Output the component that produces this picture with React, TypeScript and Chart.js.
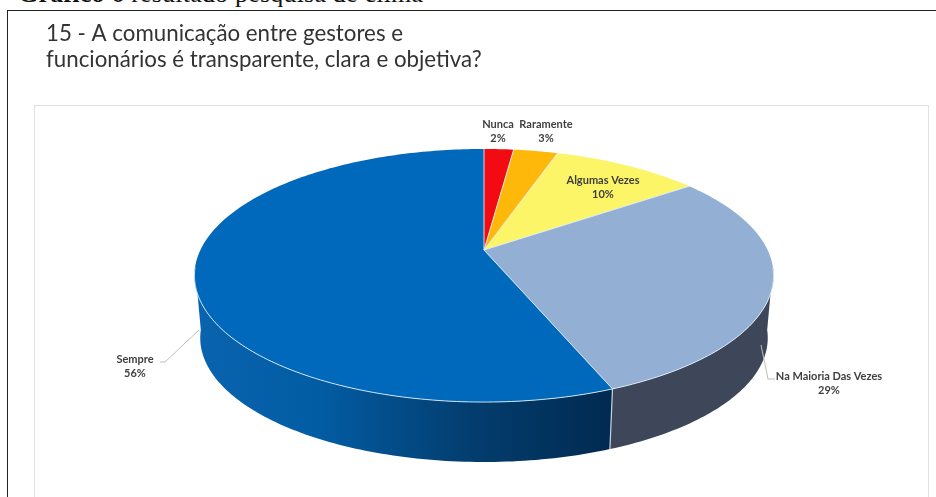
import React, { useEffect, useRef } from "react";
import { Chart, registerables } from "chart.js";

Chart.register(...registerables);

const categories = ["Nunca", "Raramente", "Algumas Vezes", "Na Maioria Das Vezes", "Sempre"];
const shares = [2, 3, 10, 29, 56];
const topColors = ["#f20b12", "#fdb80a", "#fbf567", "#93afd4", "#0069bb"];
const titleLines = ["15 - A comunicação entre gestores e", "funcionários é transparente, clara e objetiva?"];

// Pixel anchors for the two-line slice captions, in the same order as the categories.
const captionAnchors = [
  [498, 124],
  [546, 124],
  [603, 180],
  [829, 376],
  [135, 359],
];
// Leader lines for the two captions that sit outside the pie.
const leaders = [
  [[761, 345], [768, 379], [775, 379]],
  [[199, 330], [165, 362], [160, 362]],
];

// Perspective of the tilted disc, relative to the pie's outer radius.
const TILT = 0.2016;
const WIDTH_RATIO = 1.63;
const HEIGHT_RATIO = 0.6977;
const BASE_DROP_RATIO = 0.362;
const BASE_SCALE = 0.98;
const WALL_FROM = (98 * Math.PI) / 180;
const WALL_TO = (262 * Math.PI) / 180;
const RIM_COLOR = "rgba(222,236,248,0.9)";

type Pt = [number, number];

function project(arc: any, theta: number, base = false): Pt {
  const r = arc.outerRadius;
  const s = base ? BASE_SCALE : 1;
  const u = Math.sin(theta);
  const v = -Math.cos(theta);
  const d = 1 - TILT * v;
  return [
    arc.x + (r * WIDTH_RATIO * s * u) / d,
    arc.y + (base ? r * BASE_DROP_RATIO : 0) + (r * HEIGHT_RATIO * s * v) / d,
  ];
}

function trace(ctx: CanvasRenderingContext2D, arc: any, from: number, to: number, base = false, reverse = false) {
  const steps = Math.max(2, Math.ceil(((to - from) * 180) / Math.PI));
  for (let i = 0; i <= steps; i++) {
    const t = reverse ? to - ((to - from) * i) / steps : from + ((to - from) * i) / steps;
    const [x, y] = project(arc, t, base);
    ctx.lineTo(x, y);
  }
}

const disc3d = {
  id: "disc3d",
  beforeDatasetDraw(chart: any) {
    const ctx: CanvasRenderingContext2D = chart.ctx;
    const arcs = chart.getDatasetMeta(0).data;
    const sweep = arcs.map((a: any) => [a.startAngle + Math.PI / 2, a.endAngle + Math.PI / 2]);

    // Side wall, front half only.
    const shade = ctx.createLinearGradient(project(arcs[0], WALL_TO)[0], 0, project(arcs[3], sweep[3][1])[0], 0);
    shade.addColorStop(0, "#0a63ae");
    shade.addColorStop(0.3, "#025ca3");
    shade.addColorStop(0.65, "#033e70");
    shade.addColorStop(1, "#012a50");
    const wallFill = ["#000", "#000", "#000", "#3e4659", shade];
    arcs.forEach((arc: any, i: number) => {
      const a = Math.max(sweep[i][0], WALL_FROM);
      const b = Math.min(sweep[i][1], WALL_TO);
      if (b <= a) return;
      ctx.beginPath();
      trace(ctx, arc, a, b);
      trace(ctx, arc, a, b, true, true);
      ctx.closePath();
      ctx.fillStyle = wallFill[i];
      ctx.fill();
    });
    const seam = sweep[3][1];
    const [sx, sy] = project(arcs[3], seam);
    const [ex, ey] = project(arcs[3], seam, true);
    ctx.strokeStyle = "#c3d3e4";
    ctx.lineWidth = 1.2;
    ctx.beginPath();
    ctx.moveTo(sx, sy);
    ctx.lineTo(ex, ey);
    ctx.stroke();

    // Top face.
    arcs.forEach((arc: any, i: number) => {
      ctx.beginPath();
      ctx.moveTo(arc.x, arc.y);
      trace(ctx, arc, sweep[i][0], sweep[i][1]);
      ctx.closePath();
      ctx.fillStyle = arc.options.backgroundColor;
      ctx.fill();
    });
    ctx.strokeStyle = RIM_COLOR;
    ctx.lineWidth = 1;
    arcs.forEach((arc: any, i: number) => {
      ctx.beginPath();
      ctx.moveTo(arc.x, arc.y);
      const [x, y] = project(arc, sweep[i][0]);
      ctx.lineTo(x, y);
      ctx.stroke();
    });
    ctx.beginPath();
    trace(ctx, arcs[0], WALL_FROM, WALL_TO);
    ctx.stroke();
    return false;
  },
  afterDatasetsDraw(chart: any) {
    const ctx: CanvasRenderingContext2D = chart.ctx;
    ctx.strokeStyle = "#bdbdbd";
    ctx.lineWidth = 1;
    leaders.forEach((line) => {
      ctx.beginPath();
      line.forEach(([x, y]) => ctx.lineTo(x, y));
      ctx.stroke();
    });
    ctx.fillStyle = "#3f3f3f";
    ctx.font = 'bold 11px Lato, "Open Sans", sans-serif';
    ctx.textAlign = "center";
    ctx.textBaseline = "middle";
    categories.forEach((name, i) => {
      const [x, y] = captionAnchors[i];
      ctx.fillText(name, x, y);
      ctx.fillText(`${shares[i]}%`, x, y + 14);
    });
  },
};

export default function App() {
  const ref = useRef<HTMLCanvasElement>(null);
  useEffect(() => {
    const chart = new Chart(ref.current!, {
      type: "pie",
      data: {
        labels: categories,
        datasets: [{ data: shares, backgroundColor: topColors, borderWidth: 0 }],
      },
      options: {
        animation: false,
        responsive: false,
        layout: { padding: { left: 46, right: 14, top: 20, bottom: 73 } },
        plugins: {
          legend: { display: false },
          tooltip: { enabled: false },
          title: {
            display: true,
            text: titleLines,
            align: "start",
            color: "#333333",
            font: { family: "Lato, sans-serif", size: 22.3, weight: "normal", lineHeight: 1.2 },
            padding: { top: 0, bottom: 2.5 },
          },
        },
      },
      plugins: [disc3d],
    });
    return () => chart.destroy();
  }, []);

  return (
    <div style={{ position: "fixed", left: 0, top: 0, width: 936, height: 497, overflow: "hidden", background: "#fff" }}>
      <div
        style={{
          position: "absolute",
          left: 18,
          top: -21,
          font: "26px 'Liberation Serif', serif",
          letterSpacing: "0.2px",
          color: "#111",
          whiteSpace: "nowrap",
        }}
      >
        <b>Gráfico 6</b> resultado pesquisa de clima
      </div>
      <div style={{ position: "absolute", left: 7, top: 10, width: 940, height: 500, borderTop: "1.5px solid #222", borderLeft: "1.5px solid #222" }} />
      <div style={{ position: "absolute", left: 34, top: 105, width: 893, height: 400, border: "1.5px solid #e2e2e2" }} />
      <canvas ref={ref} width={936} height={497} style={{ position: "absolute", left: 0, top: 0, display: "block" }} />
    </div>
  );
}
